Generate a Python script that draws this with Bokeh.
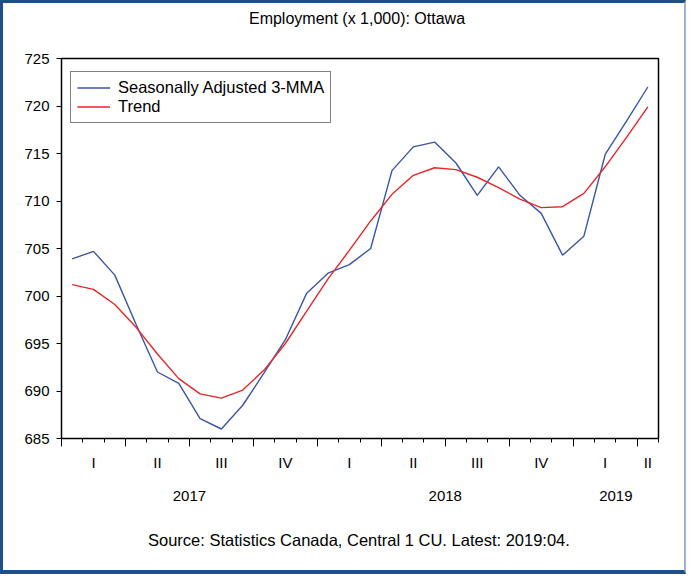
from bokeh.plotting import figure
from bokeh.models import (FixedTicker, LinearAxis, Legend, LegendItem,
                          Range1d, CustomJSTickFormatter)
from bokeh.embed import file_html
from bokeh.resources import INLINE

# ---- data (monthly, Jan 2017 .. Apr 2019) ----
month_index = list(range(28))
sa_3mma = [703.9, 704.7, 702.2, 697.0, 692.0, 690.8, 687.1, 686.0, 688.5, 691.9,
           695.4, 700.3, 702.4, 703.3, 705.0, 713.2, 715.7, 716.2, 714.0, 710.6,
           713.6, 710.6, 708.7, 704.3, 706.3, 714.9, 718.4, 722.0]
trend = [701.2, 700.7, 699.1, 696.7, 693.9, 691.3, 689.7, 689.25, 690.1, 692.2,
         695.0, 698.4, 701.8, 704.8, 707.9, 710.7, 712.7, 713.5, 713.3, 712.5,
         711.4, 710.2, 709.3, 709.4, 710.8, 713.6, 716.7, 719.9]
quarter_labels = ["I", "II", "III", "IV", "I", "II", "III", "IV", "I", "II"]
quarter_pos = [1.5, 4.5, 7.5, 10.5, 13.5, 16.5, 19.5, 22.5, 25.5, 27.5]
year_labels = ["2017", "2018", "2019"]
year_pos = [6, 18, 26]
y_ticks = [685, 690, 695, 700, 705, 710, 715, 720, 725]
title_text = "Employment (x 1,000): Ottawa"
source_text = "Source: Statistics Canada, Central 1 CU. Latest: 2019:04."

x_mid = [m + 0.5 for m in month_index]

FONT = "Liberation Sans"


def text_axis(ticks, labels, standoff, size):
    ax = LinearAxis(ticker=FixedTicker(ticks=ticks, minor_ticks=[]),
                    major_label_overrides={t: l for t, l in zip(ticks, labels)})
    ax.axis_line_color = None
    ax.major_tick_line_color = None
    ax.minor_tick_line_color = None
    ax.major_tick_out = 0
    ax.major_tick_in = 0
    ax.minor_tick_out = 0
    ax.major_label_standoff = standoff
    ax.major_label_text_font = FONT
    ax.major_label_text_font_size = size
    ax.major_label_text_color = "black"
    return ax


p = figure(width=686, height=574, output_backend="svg", toolbar_location=None,
           title=None, x_range=Range1d(0, 28), y_range=Range1d(685, 725),
           min_border_left=58, min_border_right=31, min_border_top=55,
           min_border_bottom=139, x_axis_type=None, y_axis_type=None)
p.styles = {"border-top": "3px solid #1F4E8C", "border-left": "3px solid #1F4E8C",
            "border-bottom": "4px solid #1F4E8C", "border-right": "2px solid #9DB3D3"}

p.xgrid.visible = False
p.ygrid.visible = False
p.outline_line_color = "black"
p.outline_line_width = 1.5
p.background_fill_color = "white"
p.border_fill_color = "white"

# y axis
yax = LinearAxis(ticker=FixedTicker(ticks=y_ticks, minor_ticks=[]))
yax.major_tick_out = 5
yax.major_tick_in = 0
yax.minor_tick_line_color = None
yax.major_label_standoff = 7
yax.major_label_text_font = FONT
yax.major_label_text_font_size = "15px"
yax.major_label_text_color = "black"
yax.axis_line_color = "black"
p.add_layout(yax, "left")

# x axis: tick marks only
xax = LinearAxis(ticker=FixedTicker(ticks=list(range(0, 28, 3)),
                                    minor_ticks=list(range(0, 29))),
                 formatter=CustomJSTickFormatter(code="return ''"))
xax.major_tick_out = 8
xax.major_tick_in = 0
xax.minor_tick_out = 4
xax.minor_tick_in = 0
xax.major_label_standoff = 0
xax.major_label_text_font_size = "1px"
xax.axis_line_color = "black"
p.add_layout(xax, "below")

# quarter, year and source rows
p.add_layout(text_axis(quarter_pos, quarter_labels, 7, "15px"), "below")
p.add_layout(text_axis(year_pos, year_labels, 17, "15px"), "below")
p.add_layout(text_axis([13.95], [source_text], 27, "16.5px"), "below")

# title row
p.add_layout(text_axis([13.86], [title_text], 32, "16px"), "above")

# lines
r_sa = p.line(x_mid, sa_3mma, line_color="#3A55A8", line_width=1.4)
r_tr = p.line(x_mid, trend, line_color="#E8262A", line_width=1.4)

legend = Legend(items=[LegendItem(label="Seasonally Adjusted 3-MMA", renderers=[r_sa]),
                       LegendItem(label="Trend", renderers=[r_tr])],
                location=(9, 315), padding=6, spacing=0, label_height=19,
                glyph_height=19, glyph_width=33, label_standoff=8, margin=0,
                border_line_color="black", border_line_width=1,
                background_fill_color="white", background_fill_alpha=1,
                label_text_font=FONT, label_text_font_size="16.5px",
                label_text_color="black")
p.add_layout(legend, "center")

open("out.html", "w").write(file_html(p, INLINE))
